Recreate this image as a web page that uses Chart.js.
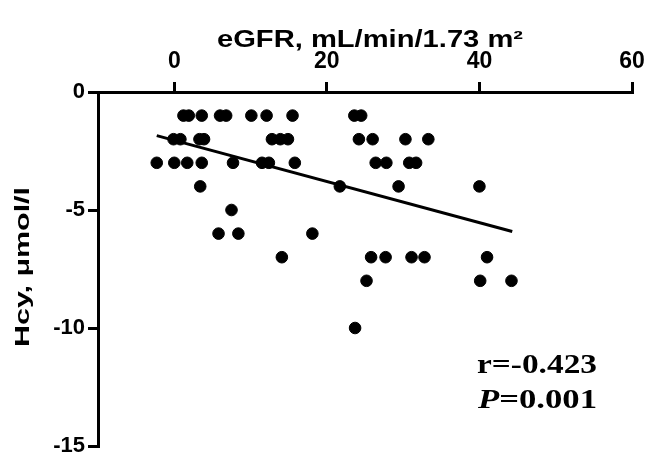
<!DOCTYPE html>
<html>
<head>
<meta charset="utf-8">
<script src="https://cdn.jsdelivr.net/npm/chart.js@4.4.0/dist/chart.umd.min.js"></script>
<style>
html,body{margin:0;padding:0;background:#fff;}
#wrap{width:648px;height:454px;position:relative;}
</style>
</head>
<body>
<div id="wrap"><canvas id="c" width="648" height="454"></canvas></div>
<script>
// eGFR values (x) grouped by Hcy change (y)
const hcyLevels = [-1, -2, -3, -4, -5, -6, -7, -8, -10];
const egfrByLevel = [
  [1.2, 1.9, 3.6, 6.0, 6.8, 10.1, 12.1, 15.5, 23.6, 24.5],
  [-0.1, 0.8, 3.3, 3.9, 12.8, 13.9, 14.9, 24.2, 26.0, 30.3, 33.3],
  [-2.3, 0.0, 1.7, 3.6, 7.7, 11.5, 12.4, 15.8, 26.4, 27.8, 30.8, 31.7],
  [3.4, 21.7, 29.4, 40.0],
  [7.5],
  [5.8, 8.4, 18.1],
  [14.1, 25.8, 27.7, 31.1, 32.8, 41.0],
  [25.2, 40.1, 44.2],
  [23.7]
];
const fitX = [-2.3, 44.3];
const fitY = [-1.85, -5.91];
const xTicks = [0, 20, 40, 60];
const yTicks = [-15, -10, -5, 0];
const xTitle = "eGFR, mL/min/1.73 m\u00b2";
const yTitle = "Hcy, \u03bcmol/l";
const statR = "r=-0.423";
const statP = "=0.001";

const points = [];
hcyLevels.forEach((y, i) => egfrByLevel[i].forEach(x => points.push({x: x, y: y})));
const fitLine = fitX.map((x, i) => ({x: x, y: fitY[i]}));

const sans = "'Liberation Sans', Arial, sans-serif";
const serif = "'Liberation Serif', 'Times New Roman', serif";

function stretchedText(ctx, text, x, y, font, width, align) {
  ctx.save();
  ctx.font = font;
  const w = ctx.measureText(text).width;
  const s = width / w;
  ctx.translate(x, y);
  ctx.scale(s, 1);
  ctx.textAlign = align || 'left';
  ctx.fillText(text, 0, 0);
  ctx.restore();
}

const textPlugin = {
  id: 'texts',
  afterDraw(chart) {
    const ctx = chart.ctx;
    const xs = chart.scales.x;
    ctx.save();
    ctx.fillStyle = '#000';
    ctx.textBaseline = 'alphabetic';
    // x axis title (centred on the plot)
    const cx = (xs.left + xs.right) / 2 + 5;
    stretchedText(ctx, xTitle, cx, 47, "bold 23px " + sans, 306, 'center');
    // y axis title (rotated)
    ctx.save();
    ctx.translate(29, 267);
    ctx.rotate(-Math.PI / 2);
    stretchedText(ctx, yTitle, 0, 0, "bold 21px " + sans, 160, 'center');
    ctx.restore();
    // statistics
    stretchedText(ctx, statR, 477, 373, "bold 27px " + serif, 120, 'left');
    ctx.font = "italic bold 27px " + serif;
    const wp = ctx.measureText("P").width;
    ctx.font = "bold 27px " + serif;
    const we = ctx.measureText(statP).width;
    const s = 119 / (wp + we);
    ctx.save();
    ctx.translate(478, 408);
    ctx.scale(s, 1);
    ctx.font = "italic bold 27px " + serif;
    ctx.fillText("P", 0, 0);
    ctx.font = "bold 27px " + serif;
    ctx.fillText(statP, wp, 0);
    ctx.restore();
    ctx.restore();
  }
};

new Chart(document.getElementById('c'), {
  type: 'scatter',
  data: {
    datasets: [
      {
        type: 'line',
        data: fitLine,
        borderColor: '#000',
        borderWidth: 3,
        pointRadius: 0,
        fill: false
      },
      {
        data: points,
        backgroundColor: '#000',
        borderColor: '#000',
        pointRadius: 5.8,
        pointHoverRadius: 5.8
      }
    ]
  },
  options: {
    responsive: false,
    animation: false,
    events: [],
    layout: {padding: {left: 0, top: 0, right: 16, bottom: 8}},
    plugins: {legend: {display: false}, tooltip: {enabled: false}},
    scales: {
      x: {
        type: 'linear',
        position: 'top',
        min: -10,
        max: 60,
        afterBuildTicks(scale) { scale.ticks = xTicks.map(v => ({value: v})); },
        afterFit(scale) { scale.height = 92; scale.paddingLeft = 0; scale.paddingRight = 0; },
        ticks: {color: '#000', font: {family: sans, size: 23, weight: 'bold'}, padding: 7, maxRotation: 0},
        grid: {drawOnChartArea: false, drawTicks: true, tickLength: 10, color: '#000', lineWidth: 3},
        border: {display: true, color: '#000', width: 3},
        title: {display: false}
      },
      y: {
        type: 'linear',
        min: -15,
        max: 0,
        afterBuildTicks(scale) { scale.ticks = yTicks.map(v => ({value: v})); },
        afterFit(scale) { scale.width = 98; scale.paddingTop = 0; scale.paddingBottom = 0; },
        ticks: {color: '#000', font: {family: sans, size: 22, weight: 'bold'}, padding: 3},
        grid: {drawOnChartArea: false, drawTicks: true, tickLength: 10, color: '#000', lineWidth: 3},
        border: {display: true, color: '#000', width: 3},
        title: {display: false}
      }
    }
  },
  plugins: [textPlugin]
});
</script>
</body>
</html>
